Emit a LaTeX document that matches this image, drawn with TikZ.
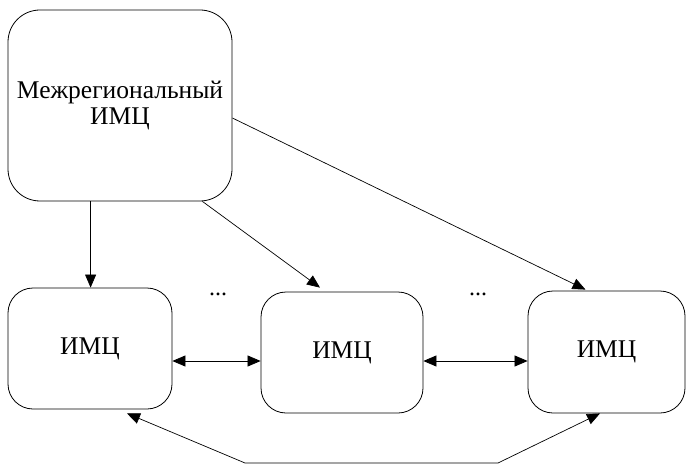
\documentclass[tikz,border=0pt]{standalone}
\usepackage{fontspec}
\setmainfont{Liberation Serif}
\usetikzlibrary{arrows.meta,calc}
\begin{document}
\begin{tikzpicture}[x=1pt,y=-1pt,
  box/.style={draw, line width=0.8pt, rounded corners=#1, inner sep=0pt, align=center, font=\fontsize{25.5}{26.5}\selectfont},
  box/.default=25pt,
  conn/.style={line width=0.7pt, -{Triangle[length=13pt,width=11pt]}},
  dconn/.style={line width=0.7pt, {Triangle[length=13pt,width=11pt]}-{Triangle[length=13pt,width=11pt]}},
  dots/.style={font=\fontsize{24}{24}\selectfont, inner sep=0pt}]
\useasboundingbox (0,0) rectangle (687,465);
\node[box=32pt, minimum width=224pt, minimum height=191pt] (top) at (120,105.5) {Межрегиональный\\ИМЦ};
\node[box, minimum width=164pt, minimum height=121pt] (l) at (90,348.5) {ИМЦ};
\node[box, minimum width=162pt, minimum height=121pt] (m) at (342,352.5) {ИМЦ};
\node[box, minimum width=157pt, minimum height=122pt] (r) at (606.5,352) {ИМЦ};
\node[dots] (d1) at (218,294) {...};
\node[dots] (d2) at (478,294) {...};
\draw[conn] ($(top.south west)+(83,0)$) -- ($(l.north west)+(83,0)$);
\draw[conn] ($(top.south east)+(-30,0)$) -- ($(m.north)+(-22,-4)$);
\draw[conn] ($(top.east)+(0,12.5)$) -- ($(r.north)+(-21,-1)$);
\draw[dconn] ($(l.east)+(0,12.5)$) -- ($(m.west)+(0,8.5)$);
\draw[dconn] ($(m.east)+(0,8.5)$) -- ($(r.west)+(0,9)$);
\coordinate (b1) at (245,463);
\coordinate (b2) at (498,463);
\draw[dconn] ($(l.south)+(37,4)$) -- (b1) -- (b2) -- ($(r.south)+(-6.5,0)$);
\end{tikzpicture}
\end{document}
